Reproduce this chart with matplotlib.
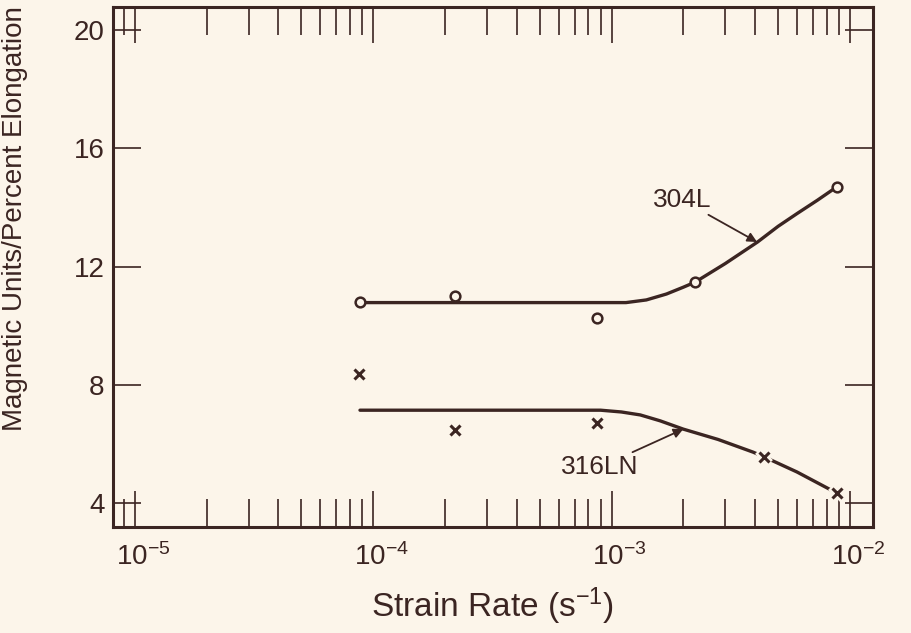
import matplotlib
matplotlib.use("Agg")
import matplotlib.pyplot as plt
from matplotlib.ticker import LogLocator, NullFormatter, FixedLocator
from matplotlib.transforms import ScaledTranslation

plt.rcParams['font.family'] = ['Liberation Sans', 'DejaVu Sans']
plt.rcParams['mathtext.fontset'] = 'custom'
plt.rcParams['mathtext.rm'] = 'Liberation Sans'
plt.rcParams['mathtext.it'] = 'Liberation Sans'

INK = '#3b2522'
PAPER = '#fcf5ea'

# measured points
rate_304 = [8.8e-5, 2.2e-4, 8.65e-4, 2.24e-3, 8.8e-3]
mag_304 = [10.8, 11.0, 10.26, 11.47, 14.69]
rate_316 = [8.7e-5, 2.2e-4, 8.65e-4, 4.37e-3, 8.8e-3]
mag_316 = [8.36, 6.47, 6.71, 5.56, 4.34]

# hand-drawn trend curves
curve_304_x = [8.8e-5, 1.15e-3, 1.4e-3, 1.7e-3, 2.0e-3, 2.24e-3, 3.0e-3,
               4.1e-3, 5.0e-3, 6.0e-3, 7.3e-3, 8.8e-3]
curve_304_y = [10.78, 10.78, 10.87, 11.07, 11.3, 11.47, 12.1,
               12.83, 13.36, 13.79, 14.24, 14.69]
curve_316_x = [8.8e-5, 9.0e-4, 1.1e-3, 1.32e-3, 1.6e-3, 2.0e-3, 2.8e-3,
               3.93e-3, 4.37e-3, 6.0e-3, 8.8e-3]
curve_316_y = [7.14, 7.14, 7.08, 6.98, 6.78, 6.5, 6.15,
               5.72, 5.56, 5.05, 4.34]

x_ticks = [1e-5, 1e-4, 1e-3, 1e-2]
x_labels = [r'$10^{-5}$', r'$10^{-4}$', r'$10^{-3}$', r'$10^{-2}$']
y_ticks = [4, 8, 12, 16, 20]

fig = plt.figure(figsize=(9.11, 6.33), dpi=100, facecolor=PAPER)
ax = fig.add_axes([0.124, 0.1675, 0.834, 0.8215], facecolor=PAPER)

ax.plot(curve_304_x, curve_304_y, color=INK, lw=2.4, solid_capstyle='round')
ax.plot(curve_316_x, curve_316_y, color=INK, lw=2.4, solid_capstyle='round')
ax.plot(rate_304, mag_304, ls='none', marker='o', ms=7, mew=1.8,
        mec=INK, mfc=PAPER, zorder=3)
# paper-coloured halo so the curve breaks around each cross
ax.plot(rate_316, mag_316, ls='none', marker='x', ms=8, mew=6,
        mec=PAPER, zorder=3)
ax.plot(rate_316, mag_316, ls='none', marker='x', ms=6.5, mew=2.2,
        mec=INK, zorder=4)

ax.set_xscale('log')
ax.set_xlim(10 ** -5.092, 10 ** -1.904)
ax.set_ylim(3.19, 20.78)

ax.xaxis.set_major_locator(FixedLocator(x_ticks))
ax.set_xticklabels(x_labels)
ax.xaxis.set_minor_locator(LogLocator(base=10, subs=range(2, 10), numticks=20))
ax.xaxis.set_minor_formatter(NullFormatter())
ax.set_yticks(y_ticks)

ax.tick_params(axis='x', which='major', direction='in', length=26, width=1.2,
               top=True, bottom=True, colors=INK, labelsize=20, pad=12)
ax.tick_params(axis='x', which='minor', direction='in', length=20, width=1.2,
               top=True, bottom=True, colors=INK)
ax.tick_params(axis='y', which='major', direction='in', length=20, width=1.2,
               left=True, right=True, colors=INK, labelsize=20, pad=6)
for lab in ax.get_xticklabels():
    lab.set_transform(lab.get_transform() + ScaledTranslation(0.08, 0, fig.dpi_scale_trans))
for side in ax.spines.values():
    side.set_linewidth(2.2)
    side.set_color(INK)

ax.set_xlabel(r'Strain Rate (s$^{-1}$)', fontsize=24, color=INK, labelpad=10)
ax.set_ylabel('Magnetic Units/Percent Elongation', fontsize=20, color=INK)
ax.yaxis.set_label_coords(-0.112, 0.594)

ax.annotate('304L', xy=(4.08e-3, 12.83), xytext=(2.62e-3, 14.25),
            ha='right', va='center', fontsize=19, color=INK,
            arrowprops=dict(arrowstyle='-|>', color=INK, lw=1.3,
                            mutation_scale=14, shrinkA=0, shrinkB=0))
ax.annotate('316LN', xy=(2.0e-3, 6.5), xytext=(1.3e-3, 5.22),
            ha='right', va='center', fontsize=19, color=INK,
            arrowprops=dict(arrowstyle='-|>', color=INK, lw=1.3,
                            mutation_scale=14, shrinkA=0, shrinkB=0))

fig.savefig('out.png', dpi=100, facecolor=PAPER)
